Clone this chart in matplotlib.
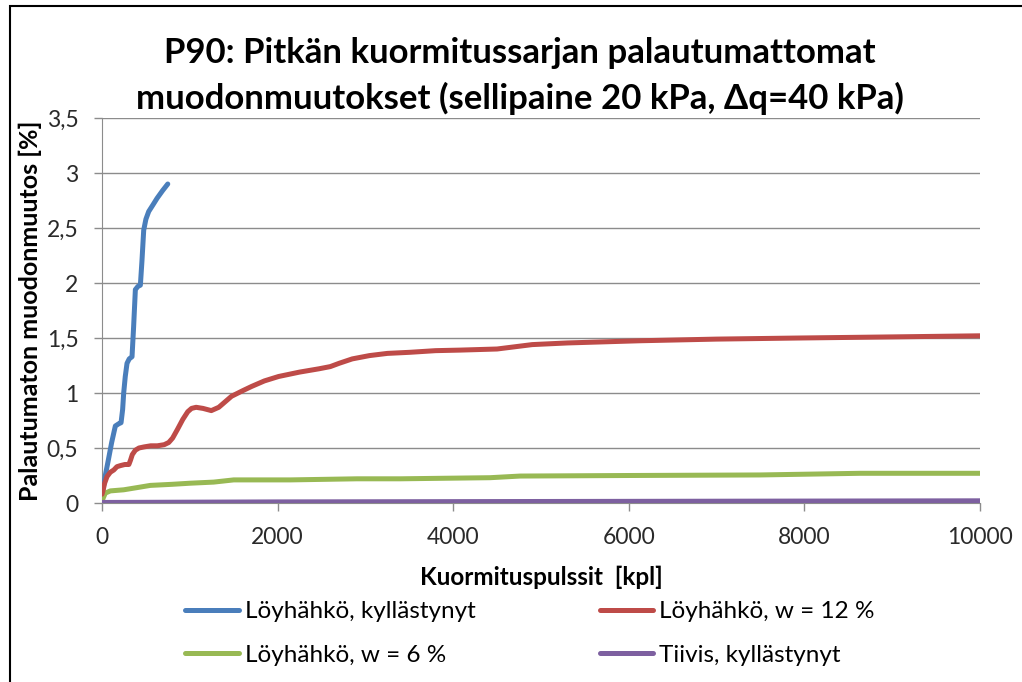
import matplotlib.pyplot as plt
from matplotlib.patches import Rectangle

# pulse counts and irreversible strain [%] for each sample
blue_x = [0, 10, 40, 72, 110, 152, 190, 217, 235, 247, 265, 285, 310, 342, 360, 380,
          410, 437, 455, 475, 500, 532, 580, 627, 690, 749]
blue_y = [0.0, 0.12, 0.26, 0.39, 0.55, 0.70, 0.72, 0.73, 0.85, 1.00, 1.15, 1.27, 1.31, 1.33,
          1.60, 1.94, 1.97, 1.98, 2.20, 2.48, 2.58, 2.65, 2.71, 2.77, 2.84, 2.90]

red_x = [0, 11, 30, 57, 95, 134, 170, 210, 260, 306, 325, 345, 380, 421, 480, 555, 630,
         708, 760, 804, 860, 920, 977, 1020, 1072, 1150, 1245, 1330, 1475, 1600, 1705,
         1850, 2011, 2250, 2471, 2600, 2701, 2850, 3046, 3250, 3506, 3800, 4080, 4500,
         4700, 4900, 5300, 6130, 7000, 7950, 9000, 10000]
red_y = [0.08, 0.11, 0.18, 0.24, 0.28, 0.30, 0.33, 0.34, 0.35, 0.35, 0.39, 0.44, 0.48,
         0.50, 0.51, 0.52, 0.52, 0.53, 0.55, 0.59, 0.67, 0.76, 0.83, 0.86, 0.87, 0.86,
         0.84, 0.87, 0.97, 1.02, 1.06, 1.11, 1.15, 1.19, 1.22, 1.24, 1.27, 1.31, 1.34,
         1.36, 1.37, 1.385, 1.39, 1.40, 1.42, 1.44, 1.455, 1.475, 1.49, 1.50, 1.51, 1.52]

green_x = [0, 11, 38, 95, 247, 400, 550, 800, 1006, 1272, 1500, 2145, 2905, 3400, 4420,
           4763, 6000, 7497, 8636, 10000]
green_y = [0.0, 0.04, 0.09, 0.11, 0.12, 0.14, 0.16, 0.17, 0.18, 0.19, 0.21, 0.21, 0.22,
           0.22, 0.23, 0.245, 0.25, 0.255, 0.27, 0.27]

purple_x = [0, 2000, 6000, 10000]
purple_y = [0.005, 0.01, 0.015, 0.02]

labels = ['Löyhähkö, kyllästynyt', 'Löyhähkö, w = 12 %',
          'Löyhähkö, w = 6 %', 'Tiivis, kyllästynyt']
colors = ['#4a7ebb', '#be4b48', '#98b954', '#7d60a0']

x_ticks = [0, 2000, 4000, 6000, 8000, 10000]
y_ticks = [0, 0.5, 1, 1.5, 2, 2.5, 3, 3.5]
y_tick_labels = ['0', '0,5', '1', '1,5', '2', '2,5', '3', '3,5']

plt.rcParams['font.family'] = ['Lato', 'DejaVu Sans']

fig = plt.figure(figsize=(10.22, 6.82), dpi=100)
ax = fig.add_axes([102 / 1022, 1 - 503 / 682, 878 / 1022, 385 / 682])

grid_col = '#8c8c8c'
lines = []
for xs, ys, col in [(blue_x, blue_y, colors[0]), (green_x, green_y, colors[2]),
                    (red_x, red_y, colors[1]), (purple_x, purple_y, colors[3])]:
    ln, = ax.plot(xs, ys, color=col, lw=3.6, solid_capstyle='round', zorder=3)
    lines.append(ln)

ax.set_xlim(0, 10000)
ax.set_ylim(0, 3.5)
ax.set_xticks(x_ticks)
ax.set_xticklabels([str(t) for t in x_ticks])
ax.set_yticks(y_ticks)
ax.set_yticklabels(y_tick_labels)
ax.tick_params(labelsize=16.5, colors=grid_col, labelcolor='#2a2a2a', length=6, width=1)
ax.tick_params(axis='y', pad=11)
ax.tick_params(axis='x', pad=11)
ax.yaxis.grid(True, color=grid_col, lw=1)
for s in ['top', 'right']:
    ax.spines[s].set_visible(False)
ax.spines['left'].set_color(grid_col)
ax.spines['bottom'].set_color(grid_col)

ax.set_xlabel('Kuormituspulssit  [kpl]', fontsize=17.5, fontweight='bold', labelpad=13)
ax.set_ylabel('Palautumaton muodonmuutos [%]', fontsize=18, fontweight='bold', labelpad=3)

fig.text(0.509, 1 - 53 / 682, 'P90: Pitkän kuormitussarjan palautumattomat',
         ha='center', va='center', fontsize=25, fontweight='bold')
fig.text(0.509, 1 - 98 / 682, 'muodonmuutokset (sellipaine 20 kPa, Δq=40 kPa)',
         ha='center', va='center', fontsize=25, fontweight='bold')

fig.legend(lines, [labels[0], labels[2], labels[1], labels[3]], ncol=2,
           loc='upper left', bbox_to_anchor=(166 / 1022, 1 - 582 / 682),
           frameon=False, fontsize=17.5, handlelength=2.2, handletextpad=0.25,
           columnspacing=5.1, labelspacing=0.92, borderpad=0.3)

# chart area outline
fig.patches.append(Rectangle((9.5 / 1022, -0.1), 1.2, (1 - 6 / 682) + 0.1,
                             transform=fig.transFigure, fill=False,
                             edgecolor='black', lw=1.5))

fig.savefig('out.png', dpi=100)
